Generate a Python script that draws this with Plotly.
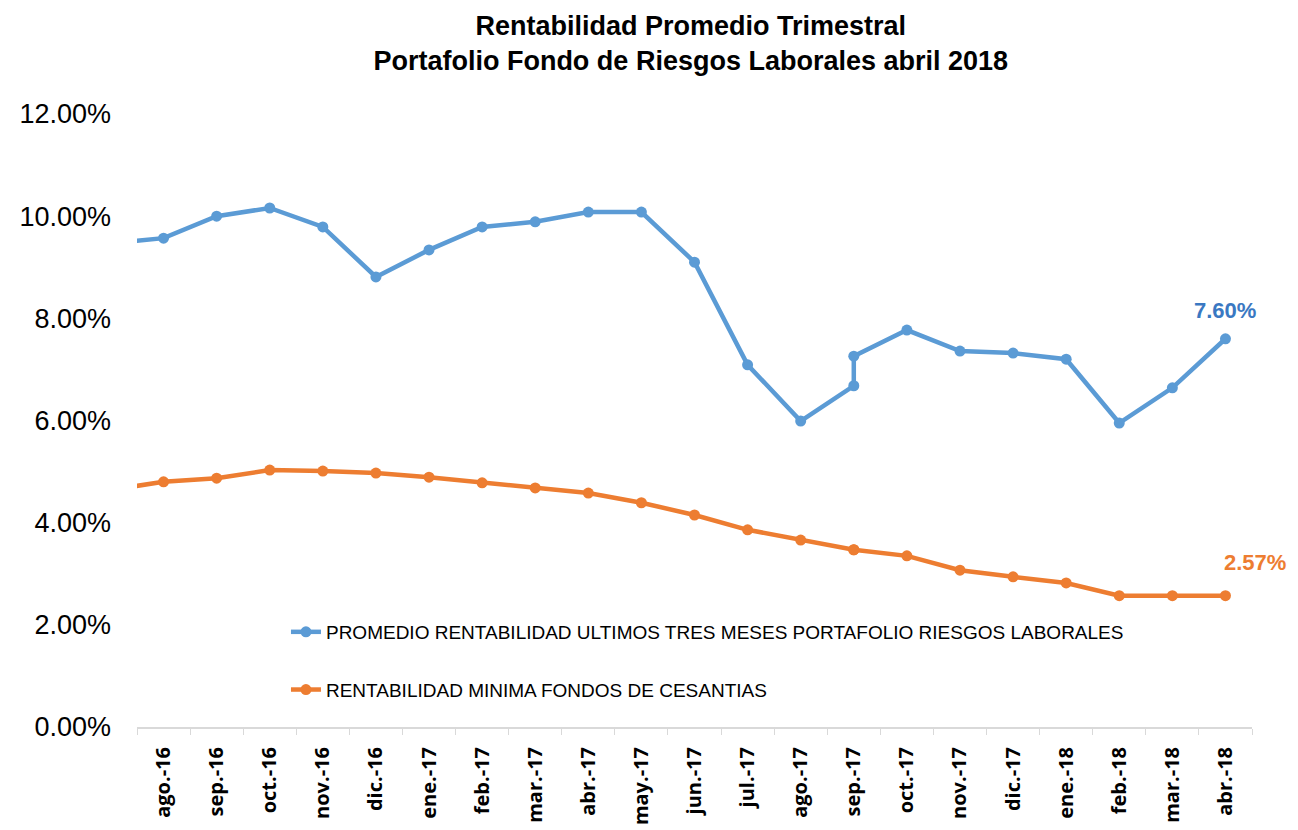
import plotly.graph_objects as go

# months on the category axis (jul.-16 sits just outside the visible range)
MONTHS = ["jul.-16", "ago.-16", "sep.-16", "oct.-16", "nov.-16", "dic.-16",
          "ene.-17", "feb.-17", "mar.-17", "abr.-17", "may.-17", "jun.-17",
          "jul.-17", "ago.-17", "sep.-17", "oct.-17", "nov.-17", "dic.-17",
          "ene.-18", "feb.-18", "mar.-18", "abr.-18"]

# sample dates (sep.-17 appears twice in the source series)
X_POINTS = ["jul.-16", "ago.-16", "sep.-16", "oct.-16", "nov.-16", "dic.-16",
            "ene.-17", "feb.-17", "mar.-17", "abr.-17", "may.-17", "jun.-17",
            "jul.-17", "ago.-17", "sep.-17", "sep.-17", "oct.-17", "nov.-17",
            "dic.-17", "ene.-18", "feb.-18", "mar.-18", "abr.-18"]

PROMEDIO_RL = [9.47, 9.57, 10.00, 10.16, 9.79, 8.81, 9.34, 9.79, 9.89, 10.08,
               10.08, 9.10, 7.09, 5.99, 6.68, 7.26, 7.77, 7.36, 7.32, 7.20,
               5.95, 6.64, 7.60]
MINIMA_CES = [4.64, 4.80, 4.87, 5.03, 5.01, 4.97, 4.89, 4.78, 4.68, 4.58,
              4.39, 4.15, 3.86, 3.66, 3.47, 3.47, 3.35, 3.07, 2.94, 2.82,
              2.57, 2.57, 2.57]

BLUE = "#5B9BD5"
ORANGE = "#ED7D31"
FONT = "Liberation Sans Narrow, Liberation Sans, Arial"

fig = go.Figure()
fig.add_trace(go.Scatter(
    x=X_POINTS, y=PROMEDIO_RL, mode="lines+markers",
    name="PROMEDIO RENTABILIDAD ULTIMOS TRES MESES PORTAFOLIO RIESGOS LABORALES",
    line=dict(color=BLUE, width=4.5), marker=dict(color=BLUE, size=11),
    legendgroup="a"))
fig.add_trace(go.Scatter(
    x=X_POINTS, y=MINIMA_CES, mode="lines+markers",
    name="RENTABILIDAD MINIMA FONDOS DE CESANTIAS",
    line=dict(color=ORANGE, width=4.5), marker=dict(color=ORANGE, size=11),
    legendgroup="b"))

fig.add_annotation(x=X_POINTS[-1], y=PROMEDIO_RL[-1], text=f"{PROMEDIO_RL[-1]:.2f}%",
                   showarrow=False, yshift=28,
                   font=dict(family=FONT, size=22, color="#3A78C2", weight="bold"))
fig.add_annotation(x=X_POINTS[-1], y=MINIMA_CES[-1], text=f"{MINIMA_CES[-1]:.2f}%",
                   showarrow=False, yshift=33, xshift=30,
                   font=dict(family=FONT, size=22, color=ORANGE, weight="bold"))

# the page body adds an 8px offset, margins below compensate for it
fig.update_layout(
    width=1298, height=830,
    margin=dict(l=129, r=54, t=106, b=111),
    paper_bgcolor="white", plot_bgcolor="white",
    title=dict(text="Rentabilidad Promedio Trimestral<br>Portafolio Fondo de Riesgos Laborales abril 2018",
               x=0.526, xref="container", xanchor="center",
               y=0.968, yref="container", yanchor="top",
               font=dict(family=FONT, size=27, color="black", weight="bold")),
    font=dict(family=FONT, color="black"),
    legend=dict(x=0.1336, y=0.186, xanchor="left", yanchor="top",
                font=dict(family=FONT, size=19, color="black"),
                tracegroupgap=30, bgcolor="rgba(0,0,0,0)"),
    xaxis=dict(type="category", categoryorder="array", categoryarray=MONTHS,
               range=[0.5, len(MONTHS) - 0.5], tickson="boundaries",
               ticks="outside", ticklen=6, tickcolor="#D9D9D9",
               showline=True, linecolor="#D9D9D9", linewidth=2,
               showgrid=False, tickangle=-90, automargin=False,
               ticklabelstandoff=10,
               tickfont=dict(family="Open Sans", size=20, color="black", weight="bold")),
    yaxis=dict(range=[0, 12], dtick=2, tickformat=".2f", ticksuffix="%",
               showgrid=False, zeroline=False, showline=False, ticks="",
               automargin=False, ticklabelstandoff=25,
               tickfont=dict(family=FONT, size=27, color="black")),
    showlegend=True,
)

fig.write_html("out.html")
